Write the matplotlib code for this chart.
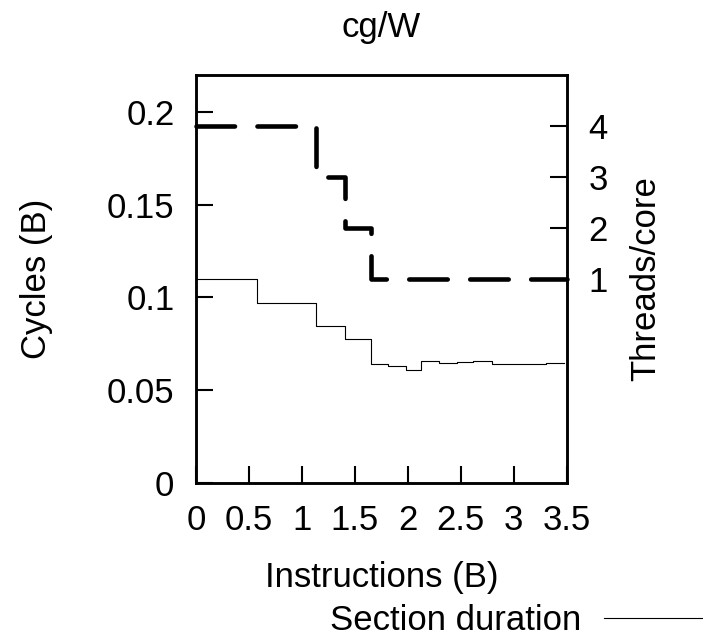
import matplotlib
matplotlib.use("Agg")
import matplotlib.pyplot as plt

# ---- data ----
dur_x = [0, 0.58, 1.13, 1.41, 1.65, 1.815, 1.98, 2.125, 2.295, 2.465, 2.62, 2.795, 2.97, 3.30, 3.47]
dur_y = [0.110, 0.0972, 0.0847, 0.0773, 0.0640, 0.0630, 0.0610, 0.0657, 0.0648, 0.0650, 0.0655,
         0.0642, 0.0639, 0.0644, 0.0644]
thr_x = [0, 1.13, 1.41, 1.65, 3.5]
thr_y = [4, 3, 2, 1, 1]

x_ticks = [0, 0.5, 1, 1.5, 2, 2.5, 3, 3.5]
x_tick_labels = ["0", "0.5", "1", "1.5", "2", "2.5", "3", "3.5"]
y_ticks = [0, 0.05, 0.1, 0.15, 0.2]
y_tick_labels = ["0", "0.05", "0.1", "0.15", "0.2"]
y2_ticks = [1, 2, 3, 4]
y2_tick_labels = ["1", "2", "3", "4"]

title = "cg/W"
xlabel = "Instructions (B)"
ylabel = "Cycles (B)"
y2label = "Threads/core"
legend_label = "Section duration"

plt.rcParams['font.family'] = ['Liberation Sans', 'DejaVu Sans']
FS = 25

fig = plt.figure(figsize=(7.03, 6.38), dpi=100)
ax = fig.add_axes([196 / 703, 1 - 482.7 / 638, (566.7 - 196) / 703, (482.7 - 75) / 638])
ax2 = ax.twinx()

line_dur, = ax.plot(dur_x, dur_y, drawstyle='steps-post', color='black', lw=0.8)
ax2.plot(thr_x, thr_y, drawstyle='steps-post', color='black', lw=3.3,
         linestyle=(0, (8.4, 4.9)), dash_capstyle='round', solid_capstyle='round',
         clip_on=False)

ax.set_xlim(0, 3.5)
ax.set_ylim(0, 0.22)
ax2.set_ylim(-3, 5)

ax.set_xticks(x_ticks)
ax.set_xticklabels(x_tick_labels)
ax.set_yticks(y_ticks)
ax.set_yticklabels(y_tick_labels)
ax2.set_yticks(y2_ticks)
ax2.set_yticklabels(y2_tick_labels)

for a in (ax, ax2):
    for s in a.spines.values():
        s.set_linewidth(1.8)
ax.tick_params(axis='both', direction='in', length=12, width=1.5, labelsize=FS, pad=15.5,
               top=False, right=False)
ax2.tick_params(axis='y', direction='in', length=12, width=1.5, labelsize=FS, pad=15.5)

ax.set_title(title, fontsize=FS, pad=27)
ax.set_xlabel(xlabel, fontsize=FS, labelpad=17)
ax.set_ylabel(ylabel, fontsize=FS)
ax2.set_ylabel(y2label, fontsize=FS)
ax.yaxis.set_label_coords(-0.385, 0.5)
ax2.yaxis.set_label_coords(1.17, 0.5)

fig.legend(handles=[line_dur], labels=[legend_label], loc='center right',
           bbox_to_anchor=(1.0, 1 - 621 / 638), frameon=False, fontsize=FS,
           markerfirst=False, handlelength=2.85, handletextpad=0.65, borderpad=0,
           borderaxespad=0)

fig.savefig("out.png", dpi=100)
